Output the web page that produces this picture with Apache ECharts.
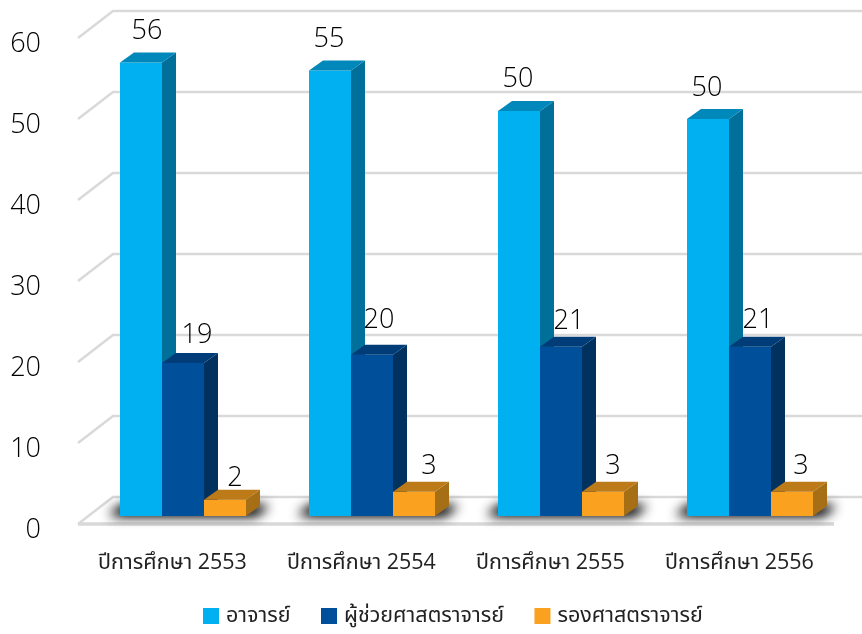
<!DOCTYPE html>
<html><head><meta charset="utf-8">
<style>html,body{margin:0;padding:0;background:#fff}#c{width:862px;height:634px}</style>
<script src="https://cdn.jsdelivr.net/npm/echarts@6/dist/echarts.min.js"></script>
</head><body><div id="c"></div>
<script>
var categories = ['ปีการศึกษา 2553','ปีการศึกษา 2554','ปีการศึกษา 2555','ปีการศึกษา 2556'];
var seriesNames = ['อาจารย์','ผู้ช่วยศาสตราจารย์','รองศาสตราจารย์'];
var lecturer = [56,55,50,49];
var assistant = [18.9,19.9,20.9,20.9];
var associate = [2,3,3,3];
var lecturerLabels = ['56','55','50','50'];
var assistantLabels = ['19','20','21','21'];
var associateLabels = ['2','3','3','3'];
var yTicks = [0,10,20,30,40,50,60];

var FONT = '"Open Sans","Noto Sans","Noto Sans Thai",sans-serif';
var WALL_DX = 35, WALL_DY = 27, BASE_DX = 10.5, BASE_DY = 8, DX = 14, DY = 10, BAR_W = 42, OFF = 3000;
var palette = [
  {front:'#00B0F0', side:'#006F9A', top:'#0088BA'},
  {front:'#004F9B', side:'#00315F', top:'#003D78'},
  {front:'#FAA21F', side:'#A66E15', top:'#BC7B18'}
];
var labelNudge = [
  [[6,-21],[-1,-21],[-1,-22],[-1,-21]],
  [[14,-18],[7,-24],[8,-15],[8,-16]],
  [[10,-11],[15,-15],[10,-15],[9,-15]]
];

function pts(a){return {points:a};}
function barRender(si, labels){
  return function(params, api){
    var cat = api.value(0), top = api.coord([cat, api.value(1)]), base = api.coord([cat, 0]);
    var x = base[0] + BASE_DX - 63 + si*BAR_W, yb = base[1] - BASE_DY, yt = top[1] - BASE_DY, c = palette[si];
    var n = labelNudge[si][params.dataIndex];
    return {type:'group', children:[
      {type:'rect', shape:{x:x,y:yt,width:BAR_W,height:yb-yt}, style:{fill:c.front}},
      {type:'polygon', shape:pts([[x+BAR_W,yt],[x+BAR_W+DX,yt-DY],[x+BAR_W+DX,yb-DY],[x+BAR_W,yb]]), style:{fill:c.side}},
      {type:'polygon', shape:pts([[x,yt],[x+DX,yt-DY],[x+BAR_W+DX,yt-DY],[x+BAR_W,yt]]), style:{fill:c.top}},
      {type:'text', z2:50, style:{text:labels[params.dataIndex], x:x+BAR_W/2+n[0], y:yt-DY+n[1], align:'center', verticalAlign:'middle', font:'300 27px '+FONT, fill:'#000'}}
    ]};
  };
}
function zip(v){return v.map(function(d,i){return [i,d];});}
function wallRender(params, api){
  var cs = params.coordSys, y = api.coord([0, api.value(1)])[1], x0 = cs.x, xb = x0+WALL_DX, yb = y-WALL_DY;
  var line = {stroke:'#D9D9D9', lineWidth:2.5, fill:null};
  var kids = [{type:'polyline', shape:pts([[x0,y],[xb,yb],[cs.x+cs.width+30,yb]]), style:line}];
  if (api.value(1) === 0) kids.push({type:'line', shape:{x1:x0,y1:y,x2:cs.x+cs.width,y2:y}, style:{stroke:'#D9D9D9', lineWidth:3.5}});
  return {type:'group', children:kids};
}
function shadowRender(params, api){
  var b = api.coord([api.value(0),0]), yb = b[1]-BASE_DY, cx = b[0]+BASE_DX;
  function layer(){
    return {type:'polygon', shape:pts([[cx-74-OFF,yb-1],[cx-60-OFF,yb-10],[cx+86-OFF,yb-10],[cx+72-OFF,yb-1]]),
      style:{fill:'#000', shadowBlur:12, shadowOffsetX:OFF, shadowColor:'rgba(0,0,0,0.9)'}};
  }
  return {type:'group', children:[layer(), layer()]};
}
var series = [
  {type:'custom', name:'wall', silent:true, z:1, data:yTicks.map(function(t){return [0,t];}), encode:{x:0,y:1}, renderItem:wallRender},
  {type:'custom', name:'shadow', silent:true, z:2, data:zip(lecturer), encode:{x:0,y:1}, renderItem:shadowRender}
];
[[lecturer,lecturerLabels],[assistant,assistantLabels],[associate,associateLabels]].forEach(function(p,i){
  series.push({type:'custom', name:seriesNames[i], z:3+i, itemStyle:{color:palette[i].front}, data:zip(p[0]), encode:{x:0,y:1}, renderItem:barRender(i,p[1])});
});
var chart = echarts.init(document.getElementById('c'), null, {renderer:'canvas'});
chart.setOption({
  animation:false,
  backgroundColor:'#fff',
  grid:{left:78,right:28,top:38,bottom:110,containLabel:false},
  xAxis:{type:'category', data:categories, axisLine:{show:false}, axisTick:{show:false}, splitLine:{show:false},
    axisLabel:{interval:0, hideOverlap:false, fontFamily:FONT, fontSize:21.5, color:'#222', margin:28}},
  yAxis:{type:'value', min:0, max:60, interval:10, axisLine:{show:false}, axisTick:{show:false}, splitLine:{show:false},
    axisLabel:{fontFamily:FONT, fontWeight:300, fontSize:27, color:'#000', margin:37, verticalAlign:'top', lineHeight:13}},
  legend:{data:seriesNames, left:198, top:600, icon:'rect', itemWidth:16, itemHeight:16, itemGap:30.5,
    textStyle:{fontFamily:FONT, fontSize:21.5, color:'#222', padding:[0,0,0,2]}},
  series:series
});
</script></body></html>
